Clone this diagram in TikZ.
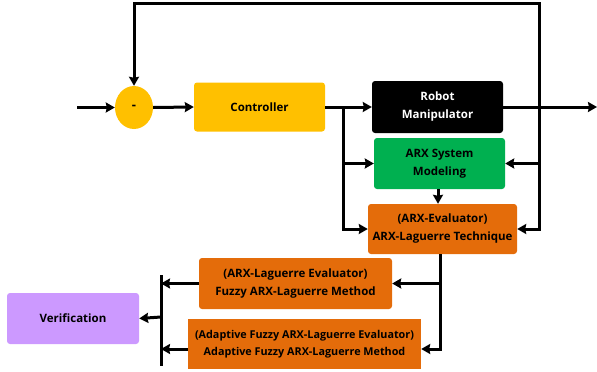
\documentclass[tikz,border=0pt]{standalone}
\usepackage{fontspec}
\setmainfont{Open Sans}[BoldFont={* Bold}]
\usetikzlibrary{arrows.meta,shapes.geometric,calc}
\definecolor{cyel}{HTML}{FFC000}
\definecolor{cgrn}{HTML}{00B050}
\definecolor{corg}{HTML}{E46C0A}
\definecolor{cpur}{HTML}{CC99FF}
\tikzset{
  blk/.style={rectangle, rounded corners=3pt, draw=none, align=center, inner sep=0pt,
    font=\bfseries\fontsize{11.5}{18}\selectfont},
  arr/.style={line width=3pt, -{Stealth[length=9pt,width=10pt,inset=1pt]}},
  ln/.style={line width=3pt},
}
\begin{document}
\begin{tikzpicture}[x=1pt,y=-1pt]
\useasboundingbox (0,0) rectangle (597,372);
\node[ellipse, fill=cyel, minimum width=38pt, minimum height=43pt, inner sep=0pt,
  font=\bfseries\fontsize{13}{14}\selectfont] (sum) at (134,107.5) {-};
\node[blk, fill=cyel, minimum width=131pt, minimum height=49pt] (ctrl) at (259.5,107) {Controller};
\node[blk, fill=black, text=white, minimum width=131pt, minimum height=52pt] (robot) at (437.5,107) {Robot\\Manipulator};
\node[blk, fill=cgrn, minimum width=131pt, minimum height=51pt] (arx) at (439.5,163.5) {ARX System\\Modeling};
\node[blk, fill=corg, minimum width=149pt, minimum height=50pt] (eval) at (442.5,229) {(ARX-Evaluator)\\ARX-Laguerre Technique};
\node[blk, fill=corg, minimum width=193pt, minimum height=51pt] (fuzzy) at (295.5,283.5) {(ARX-Laguerre Evaluator)\\Fuzzy ARX-Laguerre Method};
\node[blk, rounded corners=0pt, fill=corg, minimum width=233pt, minimum height=50pt,
  font=\bfseries\fontsize{10.8}{17}\selectfont] (adapt) at (304.5,344) {(Adaptive Fuzzy ARX-Laguerre Evaluator)\\Adaptive Fuzzy ARX-Laguerre Method};
\node[blk, fill=cpur, minimum width=132pt, minimum height=51pt] (verif) at (73,318.5) {Verification};

\coordinate (in) at (77,107.5);
\coordinate (out) at (597,107);
\coordinate (jl) at (343,107);
\coordinate (jr) at (539,107);
\coordinate (tr) at (539,3);
\coordinate (jd) at (440,254);
\coordinate (bt) at (161,275);
\coordinate (bb) at (161,366);
\coordinate (bm) at (161,317);
\coordinate (fa) at (188,349);

\draw[arr] (in) -- (sum.west);
\draw[arr] (sum.east) -- (ctrl.west);
\draw[arr] (ctrl.east) -- (robot.west);
\draw[arr] (robot.east) -- (out);
\draw[arr] (jl) |- (eval.west);
\draw[arr] (jl |- arx.west) -- (arx.west);
\draw[arr] (jr) -- (tr) -| (sum.north);
\draw[arr] (tr) |- (eval.east);
\draw[arr] (jr |- arx.east) -- (arx.east);
\draw[arr] (arx.south -| 438,0) -- (eval.north -| 438,0);
\draw[arr] (jd) |- (fa -| adapt.east);
\draw[arr] (jd |- fuzzy.east) -- (fuzzy.east);
\draw[ln] (bt) -- (bb);
\draw[arr] (fuzzy.west) -- (bt |- fuzzy.west);
\draw[arr] (fa) -- (fa -| bt);
\draw[arr] (bm) -- (verif.east);
\end{tikzpicture}
\end{document}
